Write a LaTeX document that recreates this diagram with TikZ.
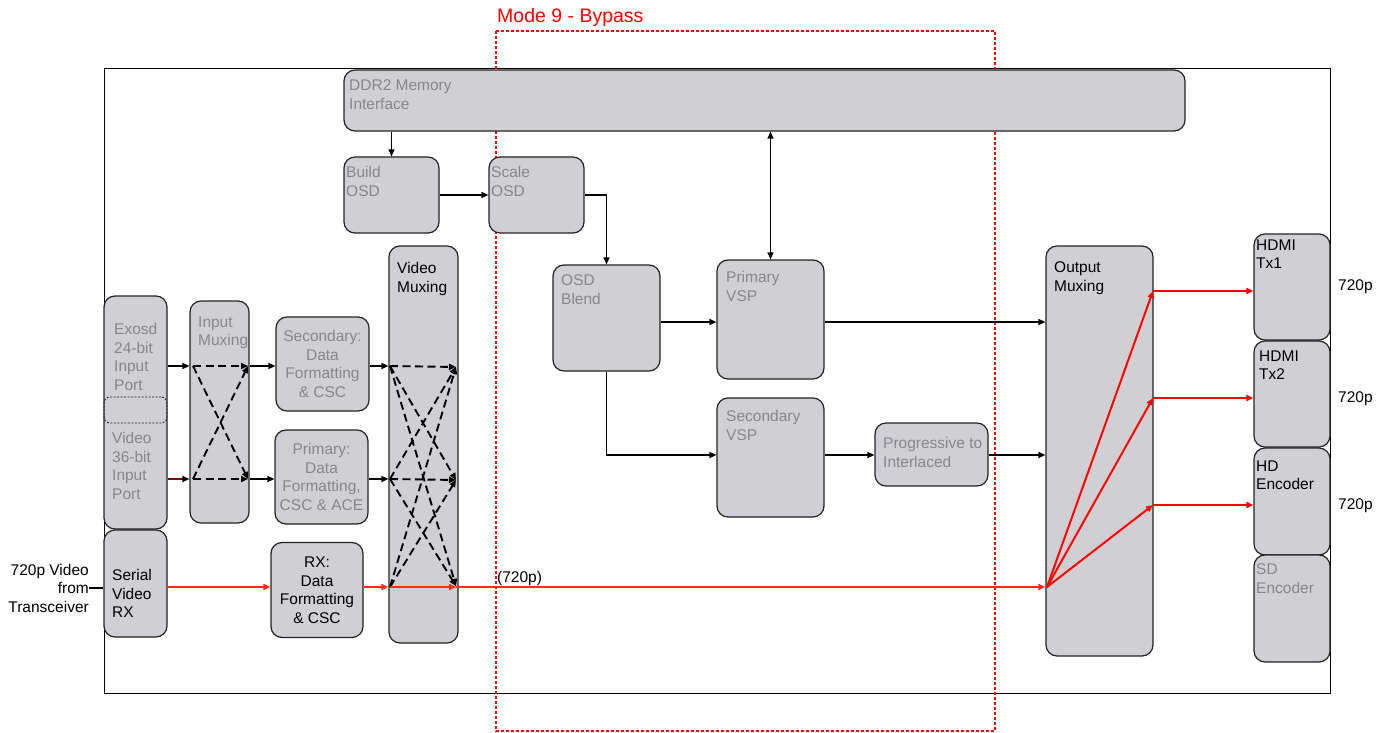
\documentclass[tikz,border=0pt]{standalone}
\usepackage{fontspec}
\setmainfont{Liberation Sans}
\usetikzlibrary{arrows.meta}
\definecolor{boxfill}{RGB}{208,207,212}
\definecolor{boxline}{RGB}{35,35,35}
\definecolor{dimtext}{RGB}{135,135,135}
\definecolor{sigred}{RGB}{255,45,15}
\definecolor{outred}{RGB}{255,0,0}
\definecolor{portred}{RGB}{128,0,0}
\begin{document}
\begin{tikzpicture}[x=1pt,y=-1pt,
  blk/.style={draw=boxline,fill=boxfill,line width=1.2pt,rounded corners=11pt,inner sep=0pt},
  txt/.style={inner sep=0pt,align=left,font=\fontsize{15.5}{18.5}\selectfont},
  lbl/.style={txt,anchor=north west,yshift=-1.5pt},
  dim/.style={text=dimtext},
  tip/.style={-{Triangle[length=7pt,width=6pt]}},
  link/.style={line width=1.2pt,tip},
  mux/.style={line width=1.9pt,dash pattern=on 8pt off 4.5pt,tip},
  redlink/.style={line width=2pt,draw=sigred,-{Triangle[length=7pt,width=6pt]}},
  outlink/.style={line width=2pt,draw=outred,-{Triangle[length=7pt,width=6pt]}}]
\useasboundingbox (0,0) rectangle (1390,733);

% chip outline and bypass region
\draw[line width=1pt] (104,69) rectangle (1330,693);
\draw[outred,line width=1.4pt,dash pattern=on 3pt off 2pt] (496,31) rectangle (995,731);
\node[txt,anchor=west,text=outred,font=\fontsize{19.5}{22}\selectfont] (mode) at (497,17) {Mode 9 - Bypass};

% processing blocks
\node[blk,minimum width=841pt,minimum height=61pt] (ddr) at (764.5,100.5) {};
\node[blk,minimum width=95pt,minimum height=76pt] (bosd) at (391.5,195) {};
\node[blk,minimum width=95pt,minimum height=76pt] (sosd) at (536.5,195) {};
\node[blk,minimum width=107pt,minimum height=106pt] (blend) at (606.5,318) {};
\node[blk,minimum width=107pt,minimum height=119pt] (pvsp) at (770.5,319.5) {};
\node[blk,minimum width=107pt,minimum height=119pt] (svsp) at (770.5,457.5) {};
\node[blk,minimum width=113pt,minimum height=63pt] (p2i) at (931.5,454.5) {};
\node[blk,minimum width=107pt,minimum height=410pt] (omux) at (1099.5,451) {};
\node[blk,minimum width=76pt,minimum height=106pt] (tx1) at (1292,287) {};
\node[blk,minimum width=76pt,minimum height=106pt] (tx2) at (1292,394) {};
\node[blk,minimum width=76pt,minimum height=107pt] (hdenc) at (1292,501.5) {};
\node[blk,minimum width=76pt,minimum height=107pt] (sdenc) at (1292,608.5) {};
\node[blk,minimum width=63pt,minimum height=233pt] (ports) at (135.5,412.5) {};
\node[draw=boxline,line width=0.9pt,dash pattern=on 2pt off 1.5pt,rounded corners=6pt,minimum width=63pt,minimum height=26pt,inner sep=0pt] (split) at (135.5,410) {};
\node[blk,minimum width=63pt,minimum height=107pt] (srx) at (135.5,583.5) {};
\node[blk,minimum width=59pt,minimum height=222pt] (imux) at (219.5,412) {};
\node[blk,minimum width=93pt,minimum height=94pt,txt,align=center,dim] (secfmt) at (322.5,364) {Secondary:\\Data\\Formatting\\\& CSC};
\node[blk,minimum width=93pt,minimum height=94pt,txt,align=center,dim] (prifmt) at (321.5,477) {Primary:\\Data\\Formatting,\\CSC \& ACE};
\node[blk,minimum width=92pt,minimum height=95pt,txt,align=center] (rxfmt) at (317,590) {RX:\\Data\\Formatting\\\& CSC};
\node[blk,minimum width=69pt,minimum height=397pt] (vmux) at (423.5,444.5) {};

% block captions
\node[lbl,dim] (tddr) at (349,78) {DDR2 Memory\\Interface};
\node[lbl,dim] (tbosd) at (346,165) {Build\\OSD};
\node[lbl,dim] (tsosd) at (491,165) {Scale\\OSD};
\node[lbl,dim] (tblend) at (561,273) {OSD\\Blend};
\node[lbl,dim] (tpvsp) at (726,270) {Primary\\VSP};
\node[lbl,dim] (tsvsp) at (726,409) {Secondary\\VSP};
\node[lbl,dim] (tp2i) at (883,436) {Progressive to\\Interlaced};
\node[lbl] (tomux) at (1054,260) {Output\\Muxing};
\node[lbl] (ttx1) at (1256,238) {HDMI\\Tx1};
\node[lbl] (ttx2) at (1259,349) {HDMI\\Tx2};
\node[lbl] (thd) at (1256,459) {HD\\Encoder};
\node[lbl,dim] (tsd) at (1256,562) {SD\\Encoder};
\node[lbl,dim] (texo) at (114,322) {Exosd\\24-bit\\Input\\Port};
\node[lbl,dim] (tvid) at (112,431) {Video\\36-bit\\Input\\Port};
\node[lbl] (tsrx) at (112,568) {Serial\\Video\\RX};
\node[lbl,dim] (timux) at (198,315) {Input\\Muxing};
\node[lbl] (tvmux) at (397,261) {Video\\Muxing};

% external labels
\node[txt,align=right,anchor=east] (src) at (89,588) {720p Video\\from\\Transceiver};
\node[txt,anchor=west] (bypass) at (497,578) {(720p)};
\node[txt,anchor=west] (r1) at (1338,287) {720p};
\node[txt,anchor=west] (r2) at (1338,399) {720p};
\node[txt,anchor=west] (r3) at (1338,506) {720p};

% signal rows
\coordinate (yA) at (0,322);
\coordinate (yB) at (0,455);
\coordinate (yC) at (0,366);
\coordinate (yD) at (0,479);
\coordinate (yE) at (0,587);

% OSD and scaler paths
\draw[link] (ddr.south -| bosd.north) -- (bosd.north);
\draw[link] (bosd.east) -- (sosd.west);
\draw[link] (sosd.east) -| (blend.north);
\draw[line width=1.2pt,{Triangle[length=7pt,width=6pt]}-{Triangle[length=7pt,width=6pt]}] (ddr.south -| pvsp.north) -- (pvsp.north);
\draw[link] (blend.east |- yA) -- (pvsp.west |- yA);
\draw[link] (pvsp.east |- yA) -- (omux.west |- yA);
\draw[link] (blend.south) |- (svsp.west |- yB);
\draw[link] (svsp.east |- yB) -- (p2i.west |- yB);
\draw[link] (p2i.east |- yB) -- (omux.west |- yB);

% input side
\draw[link] (ports.east |- yC) -- (imux.west |- yC);
\draw[line width=1.2pt,draw=portred,-{Triangle[length=7pt,width=6pt,color=black]}] (ports.east |- yD) -- (imux.west |- yD);
\coordinate (i1) at (193,366);
\coordinate (i2) at (193,479);
\coordinate (o1) at (248,366);
\coordinate (o2) at (248,479);
\draw[mux] (i1) -- (o1);
\draw[mux] (i2) -- (o2);
\draw[mux] (i1) -- (o2);
\draw[mux] (i2) -- (o1);
\draw[link] (imux.east |- yC) -- (secfmt.west |- yC);
\draw[link] (imux.east |- yD) -- (prifmt.west |- yD);
\draw[link] (secfmt.east |- yC) -- (vmux.west |- yC);
\draw[link] (prifmt.east |- yD) -- (vmux.west |- yD);

% video muxing crossbar
\coordinate (v1) at (390,366);
\coordinate (v2) at (390,479);
\coordinate (v3) at (390,587);
\coordinate (w1) at (456,367);
\coordinate (w2) at (456,480);
\coordinate (w3) at (456,586);
\draw[mux] (v1) -- (w1);
\draw[mux] (v2) -- (w2);
\draw[mux] (v1) -- (w2);
\draw[mux] (v1) -- (w3);
\draw[mux] (v2) -- (w1);
\draw[mux] (v2) -- (w3);
\draw[mux] (v3) -- (w1);
\draw[mux] (v3) -- (w2);

% 720p bypass path
\draw[line width=1.2pt] (src.east) -- (srx.west |- src.east);
\draw[redlink] (srx.east |- yE) -- (rxfmt.west |- yE);
\draw[redlink] (rxfmt.east |- yE) -- (vmux.west |- yE);
\draw[redlink] (v3) -- (w3 |- yE);
\draw[redlink] (w3 |- yE) -- (omux.west |- yE);

% output muxing fan-out
\coordinate (f0) at (1047,587);
\coordinate (f1) at (1153,291);
\coordinate (f2) at (1153,398);
\coordinate (f3) at (1153,505);
\draw[outlink] (f0) -- (f1);
\draw[outlink] (f0) -- (f2);
\draw[outlink] (f0) -- (f3);
\draw[outlink] (f1) -- (tx1.west |- f1);
\draw[outlink] (f2) -- (tx2.west |- f2);
\draw[outlink] (f3) -- (hdenc.west |- f3);
\end{tikzpicture}
\end{document}
